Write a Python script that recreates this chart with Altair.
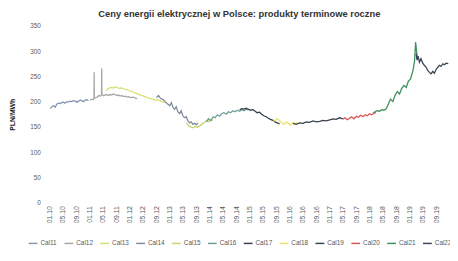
import altair as alt
import pandas as pd

TITLE = "Ceny energii elektrycznej w Polsce: produkty terminowe roczne"
Y_TITLE = "PLN/MWh"

CAL11_D = ["2010-01-05","2010-01-20","2010-02-05","2010-02-20","2010-03-05","2010-03-20","2010-04-05","2010-04-20","2010-05-05","2010-05-20","2010-06-05","2010-06-20","2010-07-05","2010-07-20","2010-08-05","2010-08-20","2010-09-05","2010-09-20","2010-10-05","2010-10-20","2010-11-05","2010-11-20","2010-12-05","2010-12-20"]
CAL11_V = [186,190,192,189,195,197,196,198,199,197,200,199,201,200,202,201,199,201,203,202,200,203,204,202]

CAL12_D = ["2011-01-05","2011-01-20","2011-02-01","2011-02-08","2011-02-10","2011-02-12","2011-02-25","2011-03-10","2011-03-25","2011-04-10","2011-04-18","2011-04-20","2011-04-22","2011-05-05","2011-05-20","2011-06-05","2011-06-20","2011-07-05","2011-07-20","2011-08-05","2011-08-20","2011-09-05","2011-09-20","2011-10-05","2011-10-20","2011-11-05","2011-11-20","2011-12-05","2011-12-20","2012-01-10","2012-02-01","2012-02-20","2012-03-10"]
CAL12_V = [203,205,204,206,258,207,208,209,212,211,213,266,214,212,213,214,212,214,213,215,214,212,213,211,212,210,211,209,210,208,209,207,206]

CAL13_D = ["2011-06-01","2011-06-20","2011-07-10","2011-08-01","2011-08-20","2011-09-10","2011-10-01","2011-10-20","2011-11-10","2011-12-01","2011-12-20","2012-01-10","2012-02-01","2012-02-20","2012-03-10","2012-04-01","2012-04-20","2012-05-10","2012-06-01","2012-06-20","2012-07-10","2012-08-01","2012-08-20","2012-09-10","2012-10-01","2012-10-20","2012-11-10","2012-12-01"]
CAL13_V = [222,226,228,227,229,228,226,227,225,224,222,221,219,217,216,214,212,211,209,207,206,205,203,204,202,200,199,198]

CAL14_D = ["2012-09-01","2012-09-20","2012-10-10","2012-11-01","2012-11-20","2012-12-10","2013-01-01","2013-01-15","2013-02-01","2013-02-15","2013-03-01","2013-03-15","2013-04-01","2013-04-15","2013-05-01","2013-05-15","2013-06-01","2013-06-15","2013-07-01","2013-07-15","2013-08-01","2013-08-15","2013-09-01","2013-09-15"]
CAL14_V = [208,212,206,204,200,196,192,198,188,185,190,180,176,182,172,168,170,162,158,160,155,157,154,158]

CAL15_D = ["2013-06-01","2013-06-20","2013-07-10","2013-08-01","2013-08-20","2013-09-10","2013-10-01","2013-10-20","2013-11-10","2013-12-01","2013-12-20","2014-01-10","2014-02-01"]
CAL15_V = [158,153,150,148,151,149,152,155,158,162,160,165,163]

CAL16_D = ["2013-12-01","2013-12-20","2014-01-10","2014-02-01","2014-02-20","2014-03-10","2014-04-01","2014-04-20","2014-05-10","2014-06-01","2014-06-20","2014-07-10","2014-08-01","2014-08-20","2014-09-10","2014-10-01","2014-10-20","2014-11-10","2014-12-01","2014-12-20"]
CAL16_V = [160,166,162,170,168,174,171,176,178,175,180,178,182,180,183,181,184,182,185,183]

CAL17_D = ["2014-10-01","2014-10-20","2014-11-10","2014-12-01","2014-12-20","2015-01-10","2015-02-01","2015-02-20","2015-03-10","2015-04-01","2015-04-20","2015-05-10","2015-06-01","2015-06-20","2015-07-10","2015-08-01","2015-08-20","2015-09-10","2015-10-01"]
CAL17_V = [184,186,185,187,185,183,184,181,178,179,175,172,170,167,165,163,160,158,156]

CAL18_D = ["2015-08-01","2015-08-20","2015-09-10","2015-10-01","2015-10-20","2015-11-10","2015-12-01","2015-12-20","2016-01-10","2016-02-01","2016-02-20","2016-03-10"]
CAL18_V = [160,163,166,162,158,155,160,157,154,158,156,159]

CAL19_D = ["2016-02-01","2016-03-01","2016-04-01","2016-05-01","2016-06-01","2016-07-01","2016-08-01","2016-09-01","2016-10-01","2016-11-01","2016-12-01","2017-01-01","2017-02-01","2017-03-01","2017-04-01","2017-05-01"]
CAL19_V = [157,155,158,157,160,159,162,160,161,163,162,164,166,165,168,166]

CAL20_D = ["2017-05-01","2017-05-20","2017-06-10","2017-07-01","2017-07-20","2017-08-10","2017-09-01","2017-09-20","2017-10-10","2017-11-01","2017-11-20","2017-12-10","2018-01-01","2018-01-20","2018-02-10","2018-03-01"]
CAL20_V = [165,168,164,167,170,166,171,169,173,170,174,172,176,174,177,178]

CAL21_D = ["2018-02-01","2018-02-20","2018-03-10","2018-04-01","2018-04-20","2018-05-10","2018-06-01","2018-06-20","2018-07-10","2018-08-01","2018-08-20","2018-09-10","2018-10-01","2018-10-20","2018-11-10","2018-12-01","2018-12-20","2019-01-10","2019-02-01","2019-02-15","2019-02-25","2019-03-05","2019-03-15"]
CAL21_V = [178,180,182,181,184,183,186,195,205,200,212,220,215,226,232,228,240,245,262,280,318,300,285]

CAL22_D = ["2019-03-01","2019-03-10","2019-03-20","2019-04-01","2019-04-15","2019-05-01","2019-05-15","2019-06-01","2019-06-15","2019-07-01","2019-07-15","2019-08-01","2019-08-15","2019-09-01","2019-09-15","2019-10-01","2019-10-15","2019-11-01","2019-11-15","2019-12-01","2019-12-20"]
CAL22_V = [295,282,290,278,285,276,272,268,262,258,255,260,256,264,268,272,270,275,273,276,275]

SERIES = ["Cal11","Cal12","Cal13","Cal14","Cal15","Cal16","Cal17","Cal18","Cal19","Cal20","Cal21","Cal22"]
COLORS = ["#8796b0","#a8a8a8","#d8df6e","#7f8c99","#c5d66a","#6e9e9a","#34404f","#ece36a","#3b4250","#d9534f","#3f8f5f","#364656"]
DATES = [CAL11_D,CAL12_D,CAL13_D,CAL14_D,CAL15_D,CAL16_D,CAL17_D,CAL18_D,CAL19_D,CAL20_D,CAL21_D,CAL22_D]
VALUES = [CAL11_V,CAL12_V,CAL13_V,CAL14_V,CAL15_V,CAL16_V,CAL17_V,CAL18_V,CAL19_V,CAL20_V,CAL21_V,CAL22_V]

Y_TICKS = [0,50,100,150,200,250,300,350]
TICK_YEARS = list(range(2010, 2020))
TICK_MONTHS = [1, 5, 9]

rows = []
for name, ds, vs in zip(SERIES, DATES, VALUES):
    for d, v in zip(ds, vs):
        rows.append({"series": name, "date": d, "value": v})
df = pd.DataFrame(rows)

x_ticks = [alt.DateTime(year=y, month=m, date=1) for y in TICK_YEARS for m in TICK_MONTHS]

chart = alt.Chart(df).mark_line(strokeWidth=1.3).encode(
    x=alt.X("date:T",
            scale=alt.Scale(domain=[alt.DateTime(year=2009, month=11, date=12),
                                    alt.DateTime(year=2020, month=1, date=5)]),
            axis=alt.Axis(title=None, values=x_ticks, format="%m.%y", labelAngle=-90,
                          labelFontSize=7, labelColor="#595959", domain=False, ticks=False,
                          grid=False, labelPadding=3)),
    y=alt.Y("value:Q",
            scale=alt.Scale(domain=[0, 350], nice=False),
            axis=alt.Axis(title=Y_TITLE, values=Y_TICKS, labelFontSize=6.5, labelColor="#595959",
                          titleFontSize=7, titleFontWeight="bold", titleColor="#222222",
                          titlePadding=15, domain=False, ticks=False, grid=False,
                          labelPadding=4)),
    color=alt.Color("series:N", sort=SERIES,
                    scale=alt.Scale(domain=SERIES, range=COLORS),
                    legend=alt.Legend(title=None, orient="none", legendX=-17, legendY=216,
                                      direction="horizontal", columns=12, symbolType="stroke",
                                      symbolSize=80, symbolStrokeWidth=1.5, labelFontSize=6.5,
                                      labelColor="#595959", columnPadding=4.5, labelOffset=2,
                                      padding=0, offset=0)),
    detail="series:N",
).properties(
    width=413,
    height=180,
    title=alt.TitleParams(TITLE, fontSize=9.5, fontWeight="bold", color="#333333", offset=5, dx=-8),
    autosize=alt.AutoSizeParams(type="none"),
    padding={"left": 37, "top": 16, "right": 0, "bottom": 45},
).configure_view(stroke=None)

chart.save("out.html", embed_options={"renderer": "svg", "actions": False})
